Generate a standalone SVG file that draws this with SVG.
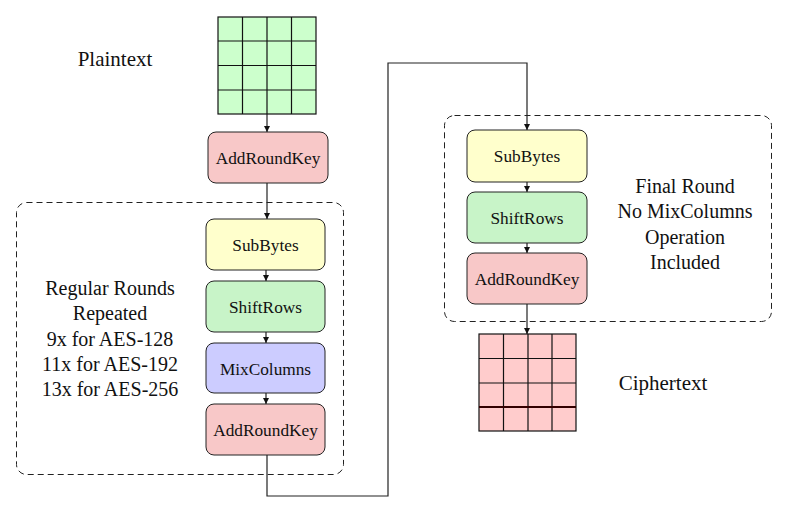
<svg xmlns="http://www.w3.org/2000/svg" width="790" height="512" viewBox="0 0 790 512">
<defs>
<marker id="ah" viewBox="0 0 10 10" refX="10" refY="5" markerWidth="6" markerHeight="7" markerUnits="userSpaceOnUse" orient="auto">
<path d="M0,0 L10,5 L0,10 z" fill="#111"/>
</marker>
<style>
text{font-family:"Liberation Serif","DejaVu Serif",serif;fill:#111;text-anchor:middle}
.bt{font-size:17.3px}
.lb{font-size:20px}
.lb2{font-size:21px}
.box{stroke:#222;stroke-width:1}
.grid{stroke:#111;stroke-width:1.2}
.dash{fill:none;stroke:#222;stroke-width:1;stroke-dasharray:6,4}
.con{fill:none;stroke:#222;stroke-width:1.2}
</style>
</defs>
<rect width="790" height="512" fill="#fff"/>

<g id="regular-round-group">
<rect class="dash" x="16.5" y="202.5" width="327" height="272" rx="10"/>
<text class="lb" x="110" y="295">Regular Rounds</text>
<text class="lb" x="110" y="320">Repeated</text>
<text class="lb" x="110" y="346">9x for AES-128</text>
<text class="lb" x="110" y="371">11x for AES-192</text>
<text class="lb" x="110" y="396">13x for AES-256</text>
</g>

<g id="final-round-group">
<rect class="dash" x="444.5" y="115.5" width="327" height="206" rx="10"/>
<text class="lb" x="685" y="193">Final Round</text>
<text class="lb" x="685" y="218">No MixColumns</text>
<text class="lb" x="685" y="244">Operation</text>
<text class="lb" x="685" y="269">Included</text>
</g>

<g id="connectors">
<line class="con" x1="267" y1="114" x2="267" y2="132" marker-end="url(#ah)"/>
<line class="con" x1="267" y1="183" x2="267" y2="219" marker-end="url(#ah)"/>
<line class="con" x1="266" y1="270" x2="266" y2="281" marker-end="url(#ah)"/>
<line class="con" x1="266" y1="332" x2="266" y2="343" marker-end="url(#ah)"/>
<line class="con" x1="266" y1="393" x2="266" y2="404" marker-end="url(#ah)"/>
<polyline class="con" points="267,455 267,496 388,496 388,63 527,63 527,130" marker-end="url(#ah)"/>
<line class="con" x1="527" y1="182" x2="527" y2="192" marker-end="url(#ah)"/>
<line class="con" x1="527" y1="243" x2="527" y2="253" marker-end="url(#ah)"/>
<line class="con" x1="527" y1="304" x2="527" y2="334" marker-end="url(#ah)"/>
</g>

<g id="plaintext">
<rect x="218" y="17" width="98" height="97" fill="#ccffcc" class="grid"/>
<path class="grid" d="M242.5,17V114M267,17V114M291.5,17V114M218,41H316M218,65.5H316M218,90H316"/>
<text class="lb2" x="115" y="66">Plaintext</text>
</g>

<g id="addroundkey-initial">
<rect class="box" x="208" y="132" width="120" height="51" rx="8" fill="#f8c8c8"/>
<text class="bt" x="268" y="163.5">AddRoundKey</text>
</g>

<g id="subbytes-1">
<rect class="box" x="206" y="219" width="119" height="51" rx="8" fill="#ffffcc"/>
<text class="bt" x="265.5" y="250.5">SubBytes</text>
</g>
<g id="shiftrows-1">
<rect class="box" x="206" y="281" width="119" height="51" rx="8" fill="#c8f4c8"/>
<text class="bt" x="265.5" y="312.5">ShiftRows</text>
</g>
<g id="mixcolumns-1">
<rect class="box" x="206" y="343" width="119" height="50" rx="8" fill="#ccccff"/>
<text class="bt" x="265.5" y="374.5">MixColumns</text>
</g>
<g id="addroundkey-1">
<rect class="box" x="206" y="404" width="119" height="51" rx="8" fill="#f8c8c8"/>
<text class="bt" x="265.5" y="435.5">AddRoundKey</text>
</g>

<g id="subbytes-2">
<rect class="box" x="467" y="130" width="120" height="52" rx="8" fill="#ffffcc"/>
<text class="bt" x="527" y="162">SubBytes</text>
</g>
<g id="shiftrows-2">
<rect class="box" x="467" y="192" width="120" height="51" rx="8" fill="#c8f4c8"/>
<text class="bt" x="527" y="224">ShiftRows</text>
</g>
<g id="addroundkey-2">
<rect class="box" x="467" y="253" width="120" height="51" rx="8" fill="#f8c8c8"/>
<text class="bt" x="527" y="285">AddRoundKey</text>
</g>

<g id="ciphertext">
<rect x="479" y="334" width="97" height="97" fill="#ffcccc" class="grid"/>
<path class="grid" d="M503.5,334V431M528,334V431M552,334V431M479,358.5H576M479,383H576"/>
<path d="M479,407H576" stroke="#300" stroke-width="2"/>
<text class="lb2" x="663" y="390">Ciphertext</text>
</g>
</svg>
